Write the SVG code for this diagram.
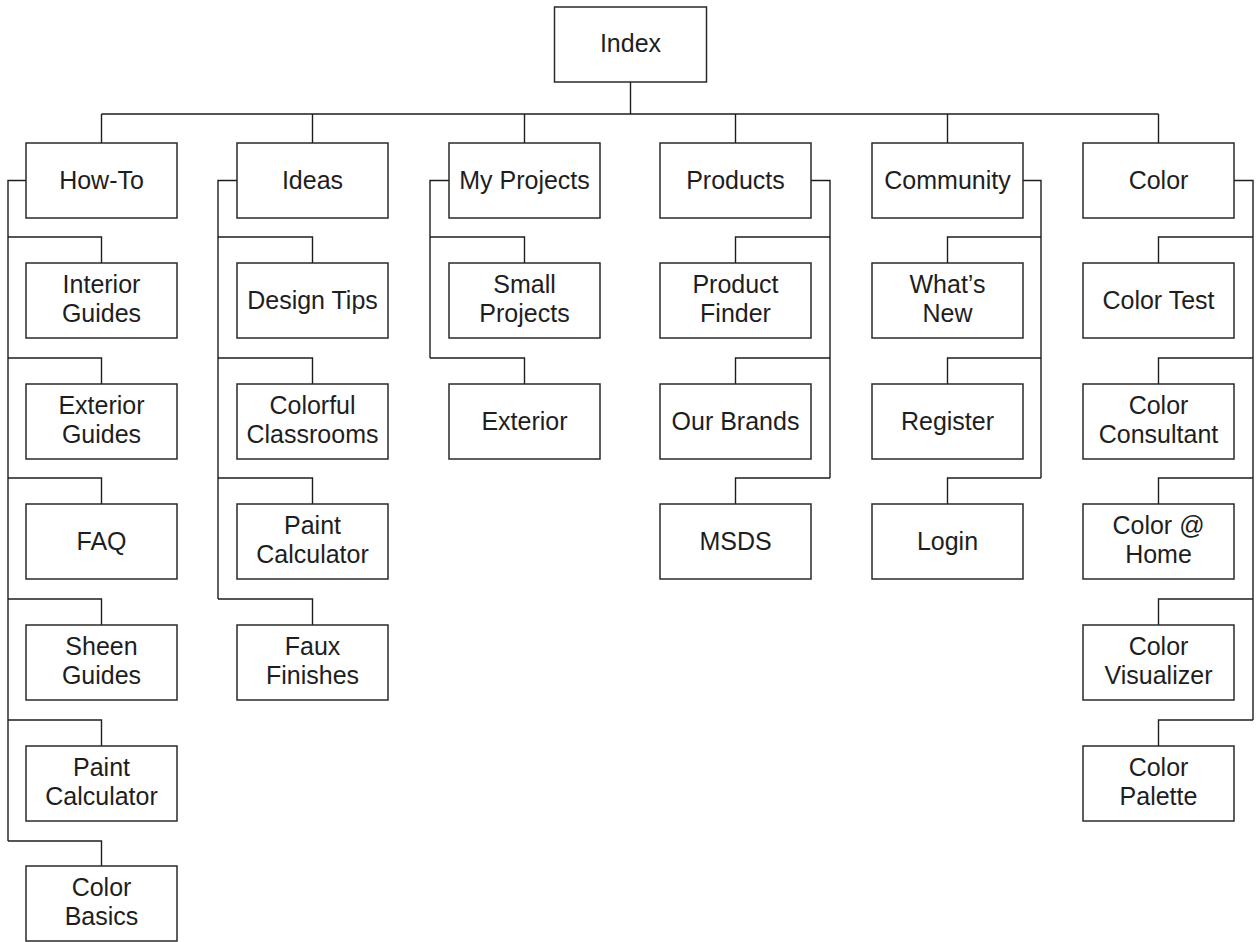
<svg xmlns="http://www.w3.org/2000/svg" width="1256" height="942" viewBox="0 0 1256 942">
<style>
.b{fill:#fff;stroke:#2a2a2a;stroke-width:1.5}
.t{font-family:"Liberation Sans",Arial,sans-serif;font-size:25px;fill:#1e1e1e;text-anchor:middle}
.c{fill:none;stroke:#1e1e1e;stroke-width:1.4}
</style>
<rect width="1256" height="942" fill="#fff"/>
<g id="connectors" class="c">
<path d="M630.5 82V114M101.5 114H1158.5M101.5 114V143M312.5 114V143M524.5 114V143M735.5 114V143M947.5 114V143M1158.5 114V143"/>
<path d="M26 180.5H8V841M8 237H101.5V263M8 358H101.5V384M8 478H101.5V504M8 599H101.5V625M8 720H101.5V746M8 841H101.5V867"/>
<path d="M237 180.5H218V599M218 237H312.5V263M218 358H312.5V384M218 478H312.5V504M218 599H312.5V625"/>
<path d="M449 180.5H430V358M430 237H524.5V263M430 358H524.5V384"/>
<path d="M811 180.5H830V478M830 237H735.5V263M830 358H735.5V384M830 478H735.5V504"/>
<path d="M1023 180.5H1041V478M1041 237H947.5V263M1041 358H947.5V384M1041 478H947.5V504"/>
<path d="M1234 180.5H1253V720M1253 237H1158.5V263M1253 358H1158.5V384M1253 478H1158.5V504M1253 599H1158.5V625M1253 720H1158.5V746"/>
</g>
<g id="index"><rect class="b" x="554.5" y="7" width="152" height="75"/><text class="t" x="630.5" y="52">Index</text></g>

<g id="howto"><rect class="b" x="26" y="143" width="151" height="75"/><text class="t" x="101.5" y="189">How-To</text></g>
<g id="interior-guides"><rect class="b" x="26" y="263" width="151" height="75"/><text class="t" x="101.5" y="293">Interior</text><text class="t" x="101.5" y="322">Guides</text></g>
<g id="exterior-guides"><rect class="b" x="26" y="384" width="151" height="75"/><text class="t" x="101.5" y="414">Exterior</text><text class="t" x="101.5" y="443">Guides</text></g>
<g id="faq"><rect class="b" x="26" y="504" width="151" height="75"/><text class="t" x="101.5" y="550">FAQ</text></g>
<g id="sheen-guides"><rect class="b" x="26" y="625" width="151" height="75"/><text class="t" x="101.5" y="655">Sheen</text><text class="t" x="101.5" y="684">Guides</text></g>
<g id="paint-calculator-1"><rect class="b" x="26" y="746" width="151" height="75"/><text class="t" x="101.5" y="776">Paint</text><text class="t" x="101.5" y="805">Calculator</text></g>
<g id="color-basics"><rect class="b" x="26" y="866" width="151" height="75"/><text class="t" x="101.5" y="896">Color</text><text class="t" x="101.5" y="925">Basics</text></g>

<g id="ideas"><rect class="b" x="237" y="143" width="151" height="75"/><text class="t" x="312.5" y="189">Ideas</text></g>
<g id="design-tips"><rect class="b" x="237" y="263" width="151" height="75"/><text class="t" x="312.5" y="309">Design Tips</text></g>
<g id="colorful-classrooms"><rect class="b" x="237" y="384" width="151" height="75"/><text class="t" x="312.5" y="414">Colorful</text><text class="t" x="312.5" y="443">Classrooms</text></g>
<g id="paint-calculator-2"><rect class="b" x="237" y="504" width="151" height="75"/><text class="t" x="312.5" y="534">Paint</text><text class="t" x="312.5" y="563">Calculator</text></g>
<g id="faux-finishes"><rect class="b" x="237" y="625" width="151" height="75"/><text class="t" x="312.5" y="655">Faux</text><text class="t" x="312.5" y="684">Finishes</text></g>

<g id="my-projects"><rect class="b" x="449" y="143" width="151" height="75"/><text class="t" x="524.5" y="189">My Projects</text></g>
<g id="small-projects"><rect class="b" x="449" y="263" width="151" height="75"/><text class="t" x="524.5" y="293">Small</text><text class="t" x="524.5" y="322">Projects</text></g>
<g id="exterior"><rect class="b" x="449" y="384" width="151" height="75"/><text class="t" x="524.5" y="430">Exterior</text></g>

<g id="products"><rect class="b" x="660" y="143" width="151" height="75"/><text class="t" x="735.5" y="189">Products</text></g>
<g id="product-finder"><rect class="b" x="660" y="263" width="151" height="75"/><text class="t" x="735.5" y="293">Product</text><text class="t" x="735.5" y="322">Finder</text></g>
<g id="our-brands"><rect class="b" x="660" y="384" width="151" height="75"/><text class="t" x="735.5" y="430">Our Brands</text></g>
<g id="msds"><rect class="b" x="660" y="504" width="151" height="75"/><text class="t" x="735.5" y="550">MSDS</text></g>

<g id="community"><rect class="b" x="872" y="143" width="151" height="75"/><text class="t" x="947.5" y="189">Community</text></g>
<g id="whats-new"><rect class="b" x="872" y="263" width="151" height="75"/><text class="t" x="947.5" y="293">What’s</text><text class="t" x="947.5" y="322">New</text></g>
<g id="register"><rect class="b" x="872" y="384" width="151" height="75"/><text class="t" x="947.5" y="430">Register</text></g>
<g id="login"><rect class="b" x="872" y="504" width="151" height="75"/><text class="t" x="947.5" y="550">Login</text></g>

<g id="color"><rect class="b" x="1083" y="143" width="151" height="75"/><text class="t" x="1158.5" y="189">Color</text></g>
<g id="color-test"><rect class="b" x="1083" y="263" width="151" height="75"/><text class="t" x="1158.5" y="309">Color Test</text></g>
<g id="color-consultant"><rect class="b" x="1083" y="384" width="151" height="75"/><text class="t" x="1158.5" y="414">Color</text><text class="t" x="1158.5" y="443">Consultant</text></g>
<g id="color-at-home"><rect class="b" x="1083" y="504" width="151" height="75"/><text class="t" x="1158.5" y="534">Color @</text><text class="t" x="1158.5" y="563">Home</text></g>
<g id="color-visualizer"><rect class="b" x="1083" y="625" width="151" height="75"/><text class="t" x="1158.5" y="655">Color</text><text class="t" x="1158.5" y="684">Visualizer</text></g>
<g id="color-palette"><rect class="b" x="1083" y="746" width="151" height="75"/><text class="t" x="1158.5" y="776">Color</text><text class="t" x="1158.5" y="805">Palette</text></g>
</svg>
